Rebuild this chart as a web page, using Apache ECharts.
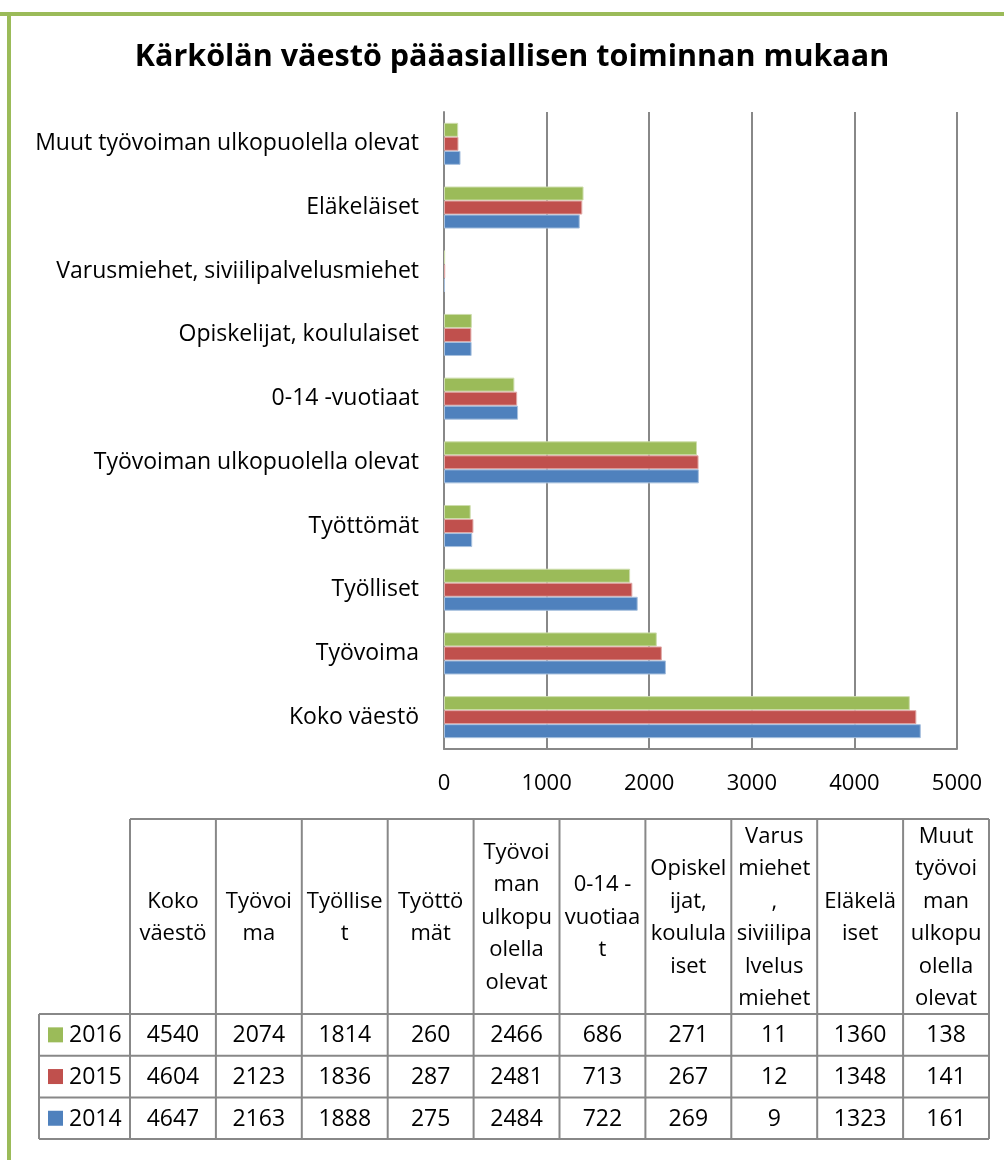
<!DOCTYPE html>
<html>
<head>
<meta charset="utf-8">
<script src="https://cdn.jsdelivr.net/npm/echarts@6/dist/echarts.min.js"></script>
<style>
  html, body { margin: 0; padding: 0; background: #fff; }
  #chart { width: 1004px; height: 1160px; }
</style>
</head>
<body>
<div id="chart"></div>
<script>
// luokat alhaalta ylös
const categories = [
  'Koko väestö',
  'Työvoima',
  'Työlliset',
  'Työttömät',
  'Työvoiman ulkopuolella olevat',
  '0-14 -vuotiaat',
  'Opiskelijat, koululaiset',
  'Varusmiehet, siviilipalvelusmiehet',
  'Eläkeläiset',
  'Muut työvoiman ulkopuolella olevat'
]
// taulukon otsikot rivitettynä kuten alkuperäisessä
const tableHeaders = [
  'Koko\nväestö',
  'Työvoi\nma',
  'Työllise\nt',
  'Työttö\nmät',
  'Työvoi\nman\nulkopu\nolella\nolevat',
  '0-14 -\nvuotiaa\nt',
  'Opiskel\nijat,\nkoulula\niset',
  'Varus\nmiehet\n,\nsiviilipa\nlvelus\nmiehet',
  'Eläkelä\niset',
  'Muut\ntyövoi\nman\nulkopu\nolella\nolevat'
]
const years = ['2016', '2015', '2014']
const v2016 = [4540, 2074, 1814, 260, 2466, 686, 271, 11, 1360, 138]
const v2015 = [4604, 2123, 1836, 287, 2481, 713, 267, 12, 1348, 141]
const v2014 = [4647, 2163, 1888, 275, 2484, 722, 269, 9, 1323, 161]
const xTicks = [0, 1000, 2000, 3000, 4000, 5000]

const colors = { '2014': '#4F81BD', '2015': '#C0504D', '2016': '#9BBB59' }
const edges = { '2014': '#A7C0DE', '2015': '#E0A8A6', '2016': '#CDDDAC' }
const font = '"Open Sans", sans-serif'
const lineColor = '#888888'

const chart = echarts.init(document.getElementById('chart'))

// taulukko piirretään graphic-elementeillä
const tLeft = 39
const tCol0 = 130
const colW = 85.9
const tTop = 819
const headBottom = 1014
const rowH = 41.7
const tRight = tCol0 + colW * tableHeaders.length
const rowValues = [v2016, v2015, v2014]

const graphics = []
// vihreä kehys (ylä ja vasen)
graphics.push({ type: 'rect', shape: { x: 0, y: 12, width: 1004, height: 4 }, style: { fill: '#9BBB59' } })
graphics.push({ type: 'rect', shape: { x: 7, y: 12, width: 4, height: 1148 }, style: { fill: '#9BBB59' } })

function hline(x1, x2, y) {
  graphics.push({ type: 'line', shape: { x1: x1, y1: y, x2: x2, y2: y }, style: { stroke: lineColor, lineWidth: 2 } })
}
function vline(x, y1, y2) {
  graphics.push({ type: 'line', shape: { x1: x, y1: y1, x2: x, y2: y2 }, style: { stroke: lineColor, lineWidth: 2 } })
}
const tBottom = headBottom + rowH * 3
hline(tCol0, tRight, tTop)
for (let r = 0; r <= 3; r++) hline(tLeft, tRight, headBottom + rowH * r)
vline(tLeft, headBottom, tBottom)
for (let c = 0; c <= tableHeaders.length; c++) vline(tCol0 + colW * c, tTop, tBottom)

tableHeaders.forEach((h, c) => {
  graphics.push({
    type: 'text',
    x: tCol0 + colW * c + colW / 2,
    y: (tTop + headBottom) / 2 + 1,
    style: {
      text: h, fill: '#000', fontSize: 22, fontFamily: font,
      align: 'center', verticalAlign: 'middle', lineHeight: 32.5
    }
  })
})
years.forEach((y, r) => {
  const cy = headBottom + rowH * r + rowH / 2
  graphics.push({ type: 'rect', shape: { x: 48, y: cy - 7.5, width: 15, height: 15 }, style: { fill: colors[y] } })
  graphics.push({
    type: 'text', x: 69, y: cy + 1,
    style: { text: y, fill: '#000', fontSize: 23, fontFamily: font, align: 'left', verticalAlign: 'middle' }
  })
  rowValues[r].forEach((v, c) => {
    graphics.push({
      type: 'text',
      x: tCol0 + colW * c + colW / 2,
      y: cy + 1,
      style: { text: String(v), fill: '#000', fontSize: 23, fontFamily: font, align: 'center', verticalAlign: 'middle' }
    })
  })
})

function barSeries(name, data) {
  return {
    name: name,
    type: 'bar',
    data: data,
    barGap: '0%',
    barCategoryGap: '34%',
    itemStyle: { color: colors[name], borderColor: edges[name], borderWidth: 1 }
  }
}

chart.setOption({
  animation: false,
  backgroundColor: '#fff',
  textStyle: { fontFamily: font },
  title: {
    text: 'Kärkölän väestö pääasiallisen toiminnan mukaan',
    left: 507,
    top: 37,
    textAlign: 'center',
    textStyle: { fontSize: 30.5, fontWeight: 'bold', color: '#000', fontFamily: font }
  },
  grid: { left: 444, top: 112, right: 47, bottom: 411, containLabel: false },
  xAxis: {
    type: 'value',
    min: xTicks[0],
    max: xTicks[xTicks.length - 1],
    interval: 1000,
    axisLine: { show: true, lineStyle: { color: lineColor, width: 2 } },
    axisTick: { show: false },
    splitLine: { show: true, lineStyle: { color: lineColor, width: 2 } },
    axisLabel: { color: '#000', fontSize: 22, margin: 24, fontFamily: font, formatter: v => String(v) }
  },
  yAxis: {
    type: 'category',
    data: categories,
    axisLine: { show: true, lineStyle: { color: lineColor, width: 2 } },
    axisTick: { show: false },
    axisLabel: { color: '#000', fontSize: 23, margin: 25, fontFamily: font }
  },
  // ensimmäinen sarja piirtyy ylimmäksi
  series: [
    barSeries('2016', v2016),
    barSeries('2015', v2015),
    barSeries('2014', v2014)
  ],
  graphic: graphics
})
</script>
</body>
</html>
